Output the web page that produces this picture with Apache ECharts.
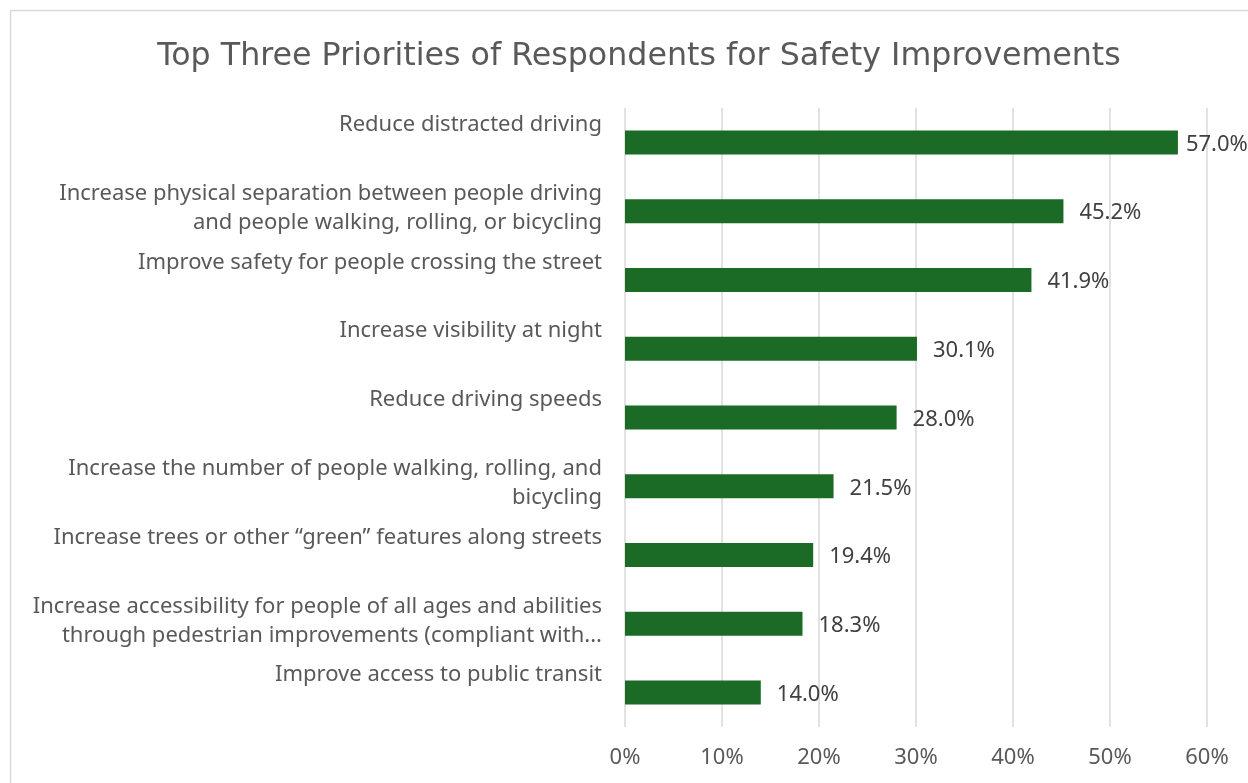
<!DOCTYPE html>
<html>
<head>
<meta charset="utf-8">
<script src="https://cdn.jsdelivr.net/npm/echarts@6/dist/echarts.min.js"></script>
<style>
  html, body { margin: 0; padding: 0; background: #fff; }
  #chart { width: 1248px; height: 783px; }
</style>
</head>
<body>
<div id="chart"></div>
<script>
// Survey priorities, listed top to bottom
const categories = [
  'Reduce distracted driving',
  'Increase physical separation between people driving\nand people walking, rolling, or bicycling',
  'Improve safety for people crossing the street',
  'Increase visibility at night',
  'Reduce driving speeds',
  'Increase the number of people walking, rolling, and\nbicycling',
  'Increase trees or other \u201cgreen\u201d features along streets',
  'Increase accessibility for people of all ages and abilities\nthrough pedestrian improvements (compliant with...',
  'Improve access to public transit'
];
// Share of respondents (%)
const shares = [57.0, 45.2, 41.9, 30.1, 28.0, 21.5, 19.4, 18.3, 14.0];
const axisTicks = [0, 10, 20, 30, 40, 50, 60];

const FONT = '"Noto Sans", "Open Sans", sans-serif';
const chart = echarts.init(document.getElementById('chart'));

// Category labels sit in a two-line slot, nudged up by a short spacer line
function categoryLabel(v) {
  const body = v.indexOf('\n') < 0 ? v + '\n ' : v;
  return body + '\n{pad| }';
}

chart.setOption({
  animation: false,
  backgroundColor: '#ffffff',
  title: {
    text: 'Top Three Priorities of Respondents for Safety Improvements',
    left: 634,
    top: 36,
    textAlign: 'center',
    textStyle: { fontFamily: '"DejaVu Sans", sans-serif', fontSize: 31.7, fontWeight: 'normal', color: '#595959' }
  },
  graphic: [{
    type: 'rect',
    shape: { x: 10.5, y: 10.5, width: 1300, height: 900 },
    style: { fill: 'none', stroke: '#d9d9d9', lineWidth: 1.5 },
    silent: true
  }],
  grid: { left: 625, right: 41, top: 108, bottom: 56, containLabel: false },
  xAxis: {
    type: 'value',
    min: axisTicks[0],
    max: axisTicks[axisTicks.length - 1],
    interval: axisTicks[1] - axisTicks[0],
    axisLine: { show: false },
    axisTick: { show: false },
    splitLine: { lineStyle: { color: '#d9d9d9', width: 1.5 } },
    axisLabel: {
      formatter: v => v + '%',
      margin: 20,
      fontFamily: FONT, fontSize: 22, color: '#595959'
    }
  },
  yAxis: {
    type: 'category',
    inverse: true,
    data: categories,
    axisLine: { show: false },
    axisTick: { show: false },
    axisLabel: {
      interval: 0,
      showMinLabel: true,
      showMaxLabel: true,
      hideOverlap: false,
      margin: 23,
      align: 'right',
      lineHeight: 29,
      formatter: categoryLabel,
      rich: { pad: { fontSize: 1, lineHeight: 6 } },
      fontFamily: FONT, fontSize: 22, color: '#595959'
    }
  },
  series: [{
    type: 'bar',
    data: shares.map((v, i) => ({
      value: v,
      label: i === 0 ? { distance: 8 } : undefined
    })),
    barWidth: 24,
    itemStyle: { color: '#1b6b26' },
    label: {
      show: true,
      position: 'right',
      distance: 16,
      offset: [0, 2],
      formatter: p => p.value.toFixed(1) + '%',
      fontFamily: FONT, fontSize: 22, color: '#404040'
    }
  }]
});
</script>
</body>
</html>
